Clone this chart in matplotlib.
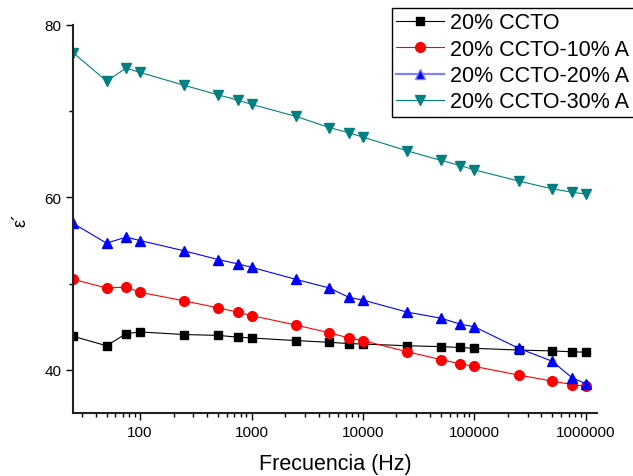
import matplotlib
matplotlib.use("Agg")
import matplotlib.pyplot as plt
from matplotlib.ticker import FixedLocator, LogLocator, NullFormatter

plt.rcParams['font.family'] = ['Liberation Sans', 'DejaVu Sans']

freq = [25, 50, 75, 100, 250, 500, 750, 1000, 2500, 5000, 7500, 10000,
        25000, 50000, 75000, 100000, 250000, 500000, 750000, 1000000]

ccto = [43.9, 42.8, 44.2, 44.4, 44.1, 44.0, 43.8, 43.7, 43.4, 43.2, 43.05, 43.0,
        42.8, 42.7, 42.6, 42.5, 42.3, 42.2, 42.1, 42.05]
ccto_10a = [50.5, 49.5, 49.6, 49.0, 48.0, 47.2, 46.7, 46.3, 45.2, 44.3, 43.7, 43.4,
            42.1, 41.2, 40.7, 40.4, 39.4, 38.7, 38.3, 38.1]
ccto_20a = [57.0, 54.7, 55.4, 55.0, 53.8, 52.8, 52.3, 51.9, 50.5, 49.5, 48.4, 48.1,
            46.7, 46.0, 45.3, 45.0, 42.5, 41.0, 39.1, 38.4]
ccto_30a = [76.8, 73.5, 75.0, 74.5, 73.0, 71.9, 71.3, 70.8, 69.4, 68.1, 67.5, 67.0,
            65.4, 64.3, 63.7, 63.2, 61.9, 61.0, 60.6, 60.4]

labels = ['20% CCTO', '20% CCTO-10% A', '20% CCTO-20% A', '20% CCTO-30% A']
x_ticks = [100, 1000, 10000, 100000, 1000000]
y_ticks = [40, 60, 80]

fig = plt.figure(figsize=(6.33, 4.77), dpi=100)
ax = fig.add_axes([73 / 633, 1 - 414 / 477, (597 - 73) / 633, (414 - 26) / 477])

ax.plot(freq, ccto, color='black', marker='s', markersize=6, lw=0.8, label=labels[0])
ax.plot(freq, ccto_10a, color='red', marker='o', markersize=7, lw=0.8, label=labels[1])
ax.plot(freq, ccto_20a, color='blue', marker='^', markersize=7.5, lw=0.8, label=labels[2])
ax.plot(freq, ccto_30a, color='#008080', marker='v', markersize=7.5, lw=0.8, label=labels[3])

ax.set_xscale('log')
ax.set_xlim(25, 1.26e6)
ax.set_ylim(35, 80)

ax.xaxis.set_major_locator(FixedLocator(x_ticks))
ax.set_xticklabels([str(t) for t in x_ticks])
ax.xaxis.set_minor_locator(LogLocator(base=10, subs=range(2, 10)))
ax.xaxis.set_minor_formatter(NullFormatter())
ax.yaxis.set_major_locator(FixedLocator(y_ticks))
ax.yaxis.set_minor_locator(FixedLocator([50, 70]))

for side in ('top', 'right'):
    ax.spines[side].set_visible(False)
for side in ('left', 'bottom'):
    ax.spines[side].set_linewidth(1.5)
    ax.spines[side].set_color('#222222')

ax.tick_params(which='major', direction='out', length=5, width=1, labelsize=11, colors='black')
ax.tick_params(which='minor', direction='out', length=3, width=1)

ax.set_xlabel('Frecuencia (Hz)', fontsize=15.5, labelpad=10)
ax.set_ylabel('ε´', fontsize=13, labelpad=11)

leg = ax.legend(loc='upper left', bbox_to_anchor=(392 / 633, 1 - 9 / 477),
                bbox_transform=fig.transFigure, borderaxespad=0,
                fontsize=15.5, frameon=True, fancybox=False, edgecolor='black',
                framealpha=1, handlelength=2.2, handletextpad=0.3,
                labelspacing=0.25, borderpad=0.2)
leg.get_frame().set_linewidth(1.0)
leg.get_lines()[2].set_color('#8080ff')
leg.get_lines()[2].set_linewidth(1.6)
leg.legend_handles[2].set_markerfacecolor('blue')

fig.savefig('out.png', dpi=100)
